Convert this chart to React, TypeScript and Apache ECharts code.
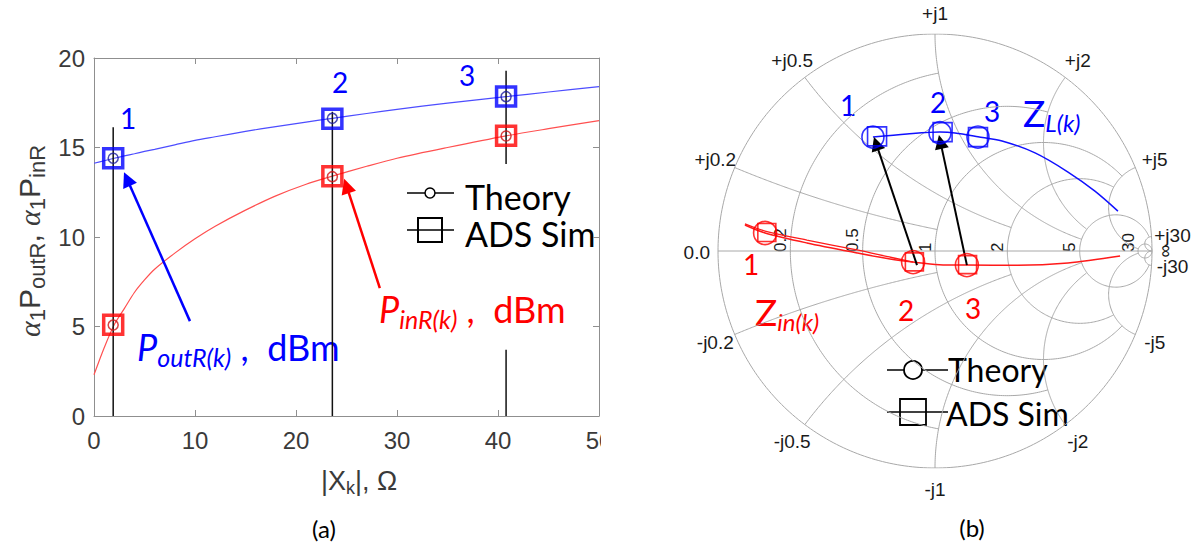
import React, { useEffect, useRef } from "react";
import * as echarts from "echarts";

// ---------- panel (a): reflected powers versus |X_k| ----------
const curveX = [0, 1, 2, 3, 4, 5, 6, 8, 10, 12, 15, 18, 21, 23.6, 27, 30, 35, 40.8, 45, 50];
const poutCurve = [14.12, 14.26, 14.4, 14.53, 14.65, 14.78, 14.9, 15.15, 15.4, 15.6, 15.9, 16.17, 16.42, 16.63, 16.9, 17.13, 17.48, 17.84, 18.1, 18.4];
const pinCurve = [2.3, 3.8, 5.1, 6.0, 6.9, 7.6, 8.2, 9.1, 9.9, 10.6, 11.5, 12.3, 12.95, 13.4, 13.95, 14.4, 15.0, 15.65, 16.05, 16.5];

const pointX = [1.9, 23.6, 40.8];
const poutTheory = [14.4, 16.63, 17.84];
const pinTheory = [5.08, 13.37, 15.64];
const poutSim = [14.4, 16.6, 17.85];
const pinSim = [5.1, 13.4, 15.65];

// vertical guides: [x, yFrom, yTo]
const guideSegments: [number, number, number][] = [
  [1.9, 0, 16.13],
  [23.6, 0, 17.0],
  [40.8, 14.08, 19.29],
  [40.8, 0, 3.7],
];

// annotation arrows: [tail, head]
const poutArrow: [number, number][] = [[9.5, 5.3], [3.27, 13.24]];
const pinArrow: [number, number][] = [[28.3, 7.15], [25.0, 12.85]];

const xTicks = { min: 0, max: 50, interval: 10 };
const yTicks = { min: 0, max: 20, interval: 5 };

// ---------- panel (b): Smith chart, reflection-coefficient plane ----------
const zLoadCurve: [number, number][] = [
  [-0.286, 0.525], [-0.129, 0.539], [0.023, 0.548], [0.092, 0.544], [0.198, 0.527],
  [0.309, 0.507], [0.461, 0.452], [0.613, 0.364], [0.737, 0.276], [0.843, 0.184],
];
const zLoadTheory: [number, number][] = [[-0.286, 0.525], [0.023, 0.545], [0.198, 0.525]];
const zLoadSim: [number, number][] = [[-0.267, 0.528], [0.035, 0.548], [0.198, 0.525]];

const zInCurve: [number, number][] = [
  [-0.876, 0.12], [-0.783, 0.083], [-0.59, 0.037], [-0.359, -0.009], [-0.207, -0.037],
  [-0.101, -0.051], [0.02, -0.063], [0.147, -0.065], [0.382, -0.066], [0.613, -0.055], [0.853, -0.023],
];
const zInSimPath: [number, number][] = [
  [-0.876, 0.125], [-0.783, 0.092], [-0.59, 0.05], [-0.36, 0.005], [-0.2, -0.03], [-0.101, -0.051],
];
const zInTheory: [number, number][] = [[-0.783, 0.083], [-0.101, -0.051], [0.147, -0.065]];
const zInSim: [number, number][] = [[-0.775, 0.085], [-0.095, -0.05], [0.15, -0.063]];

const mapArrows: [number, number][][] = [
  [[-0.083, -0.065], [-0.271, 0.495]],
  [[0.147, -0.065], [0.025, 0.503]],
];

// grid values and the limits up to which each grid curve is drawn
const gridValues = [0.2, 0.5, 1, 2, 5];
const gridLimits = [1, 2, 5, 5, 30];
const outerValue = 30;
const resistanceLabels = ["0.2", "0.5", "1", "2", "5", "30"];
const reactanceLabels = [0.2, 0.5, 1, 2, 5, 30];

const BLUE = "#0000ff";
const RED = "#ff0000";
const AXIS_GRAY = "#8f8f8f";
const LABEL_GRAY = "#3a3a3a";
const GRID_GRAY = "#a8a8a8";
const CALIBRI = "Lato, 'Open Sans', sans-serif";
const HELV = "'Liberation Sans', Arial, sans-serif";

function gammaOf(r: number, x: number): [number, number] {
  const d = (r + 1) * (r + 1) + x * x;
  return [(r * r + x * x - 1) / d, (2 * x) / d];
}

function resistanceArc(r: number, xmax: number): [number, number][] {
  const pts: [number, number][] = [];
  if (!isFinite(xmax)) {
    const c = r / (1 + r);
    const rad = 1 / (1 + r);
    for (let i = 0; i <= 360; i++) {
      const t = (i / 360) * Math.PI * 2;
      pts.push([c + rad * Math.cos(t), rad * Math.sin(t)]);
    }
    return pts;
  }
  const uMax = Math.asinh(xmax);
  const n = 240;
  for (let i = 0; i <= n; i++) {
    const x = Math.sinh(-uMax + (2 * uMax * i) / n);
    pts.push(gammaOf(r, x));
  }
  return pts;
}

function reactanceArc(x: number, rmax: number): [number, number][] {
  const pts: [number, number][] = [];
  const uMax = Math.asinh(isFinite(rmax) ? rmax : 1e5);
  const n = 240;
  for (let i = 0; i <= n; i++) {
    const r = Math.sinh((uMax * i) / n);
    pts.push(gammaOf(r, x));
  }
  return pts;
}

function gridLine(data: [number, number][]) {
  return {
    type: "line",
    data,
    showSymbol: false,
    symbol: "none",
    silent: true,
    z: 1,
    lineStyle: { color: GRID_GRAY, width: 1 },
  };
}

function arrowMarks(pairs: [number, number][][], color: string, width: number, size: number) {
  return {
    silent: true,
    symbol: ["none", "triangle"],
    symbolSize: size,
    label: { show: false },
    emphasis: { disabled: true },
    lineStyle: { color, width, type: "solid", opacity: 1 },
    itemStyle: { color },
    data: pairs.map((p) => [{ coord: p[0] }, { coord: p[1] }]),
  };
}

function buildPanelA(): any {
  const xy = (xs: number[], ys: number[]) => xs.map((x, i) => [x, ys[i]]);
  const axisCommon = {
    type: "value",
    axisLine: { show: true, onZero: false, lineStyle: { color: AXIS_GRAY, width: 1 } },
    axisTick: { show: true, inside: true, length: 6, lineStyle: { color: AXIS_GRAY, width: 1 } },
    splitLine: { show: false },
  };
  const rich = {
    p: { fontFamily: CALIBRI, fontStyle: "italic", fontSize: 36, lineHeight: 44 },
    s: { fontFamily: CALIBRI, fontStyle: "italic", fontSize: 25, lineHeight: 22, verticalAlign: "bottom" },
    d: { fontFamily: CALIBRI, fontSize: 36, lineHeight: 44 },
  };
  const withFill = (fill: string) => {
    const out: any = {};
    Object.keys(rich).forEach((k) => (out[k] = { ...(rich as any)[k], fill }));
    return out;
  };
  return {
    animation: false,
    grid: { left: 94, top: 58, right: 2, bottom: 132, outerBoundsMode: "none", containLabel: false },
    xAxis: [
      {
        ...axisCommon,
        ...xTicks,
        position: "bottom",
        axisLabel: { fontSize: 24, fontFamily: HELV, color: LABEL_GRAY, margin: 12 },
      },
      { ...axisCommon, ...xTicks, position: "top", axisLabel: { show: false } },
    ],
    yAxis: [
      {
        ...axisCommon,
        ...yTicks,
        position: "left",
        axisLabel: { fontSize: 24, fontFamily: HELV, color: LABEL_GRAY, margin: 9 },
      },
      { ...axisCommon, ...yTicks, position: "right", axisLabel: { show: false } },
    ],
    series: [
      {
        type: "line",
        name: "PoutR theory",
        data: xy(curveX, poutCurve),
        smooth: 0.3,
        showSymbol: false,
        lineStyle: { color: "#4d4dff", width: 1.2 },
        z: 2,
        markLine: arrowMarks([poutArrow], BLUE, 2.5, 15),
      },
      {
        type: "line",
        name: "PinR theory",
        data: xy(curveX, pinCurve),
        smooth: 0.3,
        showSymbol: false,
        lineStyle: { color: "#ff5050", width: 1.2 },
        z: 2,
        markLine: arrowMarks([pinArrow], RED, 2.5, 15),
      },
      ...guideSegments.map(([x, y0, y1]) => ({
        type: "line",
        data: [[x, y0], [x, y1]],
        showSymbol: false,
        symbol: "none",
        silent: true,
        lineStyle: { color: "#111111", width: 1.5 },
        z: 3,
      })),
      {
        type: "scatter",
        data: xy(pointX, poutSim),
        symbol: "rect",
        symbolSize: 19,
        itemStyle: { color: "rgba(0,0,0,0)", borderColor: BLUE, borderWidth: 3.5 },
        z: 4,
      },
      {
        type: "scatter",
        data: xy(pointX, pinSim),
        symbol: "rect",
        symbolSize: 19,
        itemStyle: { color: "rgba(0,0,0,0)", borderColor: RED, borderWidth: 3.5 },
        z: 4,
      },
      {
        type: "scatter",
        data: xy(pointX, poutTheory),
        symbol: "circle",
        symbolSize: 10,
        itemStyle: { color: "rgba(0,0,0,0)", borderColor: "#1a1aa0", borderWidth: 1.5 },
        z: 5,
      },
      {
        type: "scatter",
        data: xy(pointX, pinTheory),
        symbol: "circle",
        symbolSize: 10,
        itemStyle: { color: "rgba(0,0,0,0)", borderColor: "#d01515", borderWidth: 1.5 },
        z: 5,
      },
    ],
    graphic: [
      // y-axis title
      {
        type: "text",
        x: 29,
        y: 241,
        rotation: Math.PI / 2,
        silent: true,
        style: {
          text: "{g|α}{s|1}{n|P}{s|outR}{n|, }{g|α}{s|1}{n|P}{s|inR}",
          align: "center",
          verticalAlign: "middle",
          rich: {
            n: { fontFamily: HELV, fontSize: 30, lineHeight: 38, fill: LABEL_GRAY },
            g: { fontFamily: "'Liberation Serif', serif", fontStyle: "italic", fontSize: 30, lineHeight: 38, fill: LABEL_GRAY },
            s: { fontFamily: HELV, fontSize: 22, lineHeight: 22, verticalAlign: "bottom", fill: LABEL_GRAY },
          },
        },
      },
      // x-axis title
      {
        type: "text",
        x: 321,
        y: 481,
        silent: true,
        style: {
          text: "{n||X}{s|k}{n||, Ω}",
          align: "left",
          verticalAlign: "middle",
          rich: {
            n: { fontFamily: HELV, fontSize: 27, lineHeight: 32, fill: LABEL_GRAY },
            s: { fontFamily: HELV, fontSize: 18, lineHeight: 18, verticalAlign: "bottom", fill: LABEL_GRAY },
          },
        },
      },
      // point numbers
      ...[["1", 128, 118], ["2", 340, 82], ["3", 467, 75]].map(([t, x, y]) => ({
        type: "text",
        x,
        y,
        silent: true,
        style: { text: t, fontFamily: CALIBRI, fontSize: 28, fill: BLUE, align: "center", verticalAlign: "middle" },
      })),
      // curve captions
      {
        type: "text",
        x: 137,
        y: 347,
        silent: true,
        style: { text: "{p|P}{s|outR(k)}{d| ,  dBm}", align: "left", verticalAlign: "middle", rich: withFill(BLUE) },
      },
      {
        type: "text",
        x: 379,
        y: 309,
        silent: true,
        style: { text: "{p|P}{s|inR(k)}{d| ,  dBm}", align: "left", verticalAlign: "middle", rich: withFill(RED) },
      },
      // legend
      { type: "line", silent: true, shape: { x1: 407, y1: 193, x2: 454, y2: 193 }, style: { stroke: "#000", lineWidth: 1.5 } },
      { type: "circle", silent: true, shape: { cx: 430, cy: 193, r: 5 }, style: { stroke: "#000", lineWidth: 1.5, fill: "#fff" } },
      {
        type: "text",
        x: 465,
        y: 196,
        silent: true,
        style: { text: "Theory", fontFamily: CALIBRI, fontSize: 34, fill: "#000", align: "left", verticalAlign: "middle" },
      },
      { type: "line", silent: true, shape: { x1: 407, y1: 230, x2: 454, y2: 230 }, style: { stroke: "#000", lineWidth: 1.5 } },
      { type: "rect", silent: true, shape: { x: 418, y: 218, width: 24, height: 24 }, style: { stroke: "#000", lineWidth: 2, fill: "none" } },
      {
        type: "text",
        x: 465,
        y: 233,
        silent: true,
        style: { text: "ADS Sim", fontFamily: CALIBRI, fontSize: 34, fill: "#000", align: "left", verticalAlign: "middle" },
      },
      {
        type: "text",
        x: 324,
        y: 528,
        silent: true,
        style: { text: "(a)", fontFamily: CALIBRI, fontSize: 24, fill: "#000", align: "center", verticalAlign: "middle" },
      },
    ],
  };
}

function buildPanelB(): any {
  const cx = 334;
  const cy = 251;
  const R = 217;

  const gridSeries: any[] = [];
  gridSeries.push(gridLine(resistanceArc(0, Infinity)));
  gridSeries.push(gridLine([[-1, 0], [1, 0]]));
  gridValues.forEach((v, i) => {
    gridSeries.push(gridLine(resistanceArc(v, gridLimits[i])));
    gridSeries.push(gridLine(reactanceArc(v, gridLimits[i])));
    gridSeries.push(gridLine(reactanceArc(-v, gridLimits[i])));
  });
  gridSeries.push(gridLine(resistanceArc(outerValue, Infinity)));
  gridSeries.push(gridLine(reactanceArc(outerValue, Infinity)));
  gridSeries.push(gridLine(reactanceArc(-outerValue, Infinity)));

  const labelStyle = { fontFamily: HELV, fontSize: 19, fill: "#1a1a1a", align: "center", verticalAlign: "middle" };
  const labels: any[] = [];
  reactanceLabels.forEach((v) => {
    [1, -1].forEach((sgn) => {
      const x = v * sgn;
      const gr = (x * x - 1) / (x * x + 1);
      const gi = (2 * x) / (x * x + 1);
      labels.push({
        type: "text",
        x: cx + (R + 21) * gr,
        y: cy - (R + 21) * gi,
        silent: true,
        style: { ...labelStyle, text: (sgn > 0 ? "+j" : "-j") + v },
      });
    });
  });
  const resValues = [...gridValues, outerValue];
  resValues.forEach((r, i) => {
    const cross = cx + (R * (r - 1)) / (r + 1);
    labels.push({
      type: "text",
      x: cross - 10,
      y: cy + 1,
      rotation: Math.PI / 2,
      silent: true,
      style: { ...labelStyle, fontSize: 17, text: resistanceLabels[i], align: "left" },
    });
  });
  labels.push({ type: "text", x: cx - R - 8, y: cy + 1, silent: true, style: { ...labelStyle, text: "0.0", align: "right" } });
  labels.push({ type: "text", x: cx + R + 13, y: cy, rotation: Math.PI / 2, silent: true, style: { ...labelStyle, fontSize: 18, text: "∞" } });

  const zRich = (fill: string) => ({
    z: { fontFamily: CALIBRI, fontSize: 37, lineHeight: 44, fill },
    s: { fontFamily: CALIBRI, fontStyle: "italic", fontSize: 24, lineHeight: 20, verticalAlign: "bottom", fill },
  });

  const markerSeries = (data: [number, number][], symbol: string, size: number, color: string) => ({
    type: "scatter",
    data,
    symbol,
    symbolSize: size,
    itemStyle: { color: "rgba(0,0,0,0)", borderColor: color, borderWidth: 1.6 },
    z: 5,
  });

  return {
    animation: false,
    grid: { left: cx - R, top: cy - R, width: 2 * R, height: 2 * R, outerBoundsMode: "none", containLabel: false },
    xAxis: { type: "value", min: -1, max: 1, show: false },
    yAxis: { type: "value", min: -1, max: 1, show: false },
    series: [
      ...gridSeries,
      {
        type: "line",
        data: zLoadCurve,
        smooth: 0.3,
        showSymbol: false,
        lineStyle: { color: "#1010ff", width: 1.5 },
        z: 3,
      },
      {
        type: "line",
        data: zInSimPath,
        smooth: 0.3,
        showSymbol: false,
        lineStyle: { color: "#ff1a1a", width: 1.3 },
        z: 3,
      },
      {
        type: "line",
        data: zInCurve,
        smooth: 0.3,
        showSymbol: false,
        lineStyle: { color: "#ff1a1a", width: 1.5 },
        z: 3,
        markLine: arrowMarks(mapArrows, "#000", 2, 14),
      },
      markerSeries(zLoadTheory, "circle", 22, BLUE),
      markerSeries(zLoadSim, "rect", 19, BLUE),
      markerSeries(zInTheory, "circle", 23, RED),
      markerSeries(zInSim, "rect", 18, RED),
    ],
    graphic: [
      ...labels,
      ...[["1", 247, 105], ["2", 337, 102], ["3", 391, 111]].map(([t, x, y]) => ({
        type: "text",
        x,
        y,
        silent: true,
        style: { text: t, fontFamily: CALIBRI, fontSize: 28, fill: BLUE, align: "center", verticalAlign: "middle" },
      })),
      ...[["1", 150, 264], ["2", 305, 310], ["3", 372, 308]].map(([t, x, y]) => ({
        type: "text",
        x,
        y,
        silent: true,
        style: { text: t, fontFamily: CALIBRI, fontSize: 28, fill: RED, align: "center", verticalAlign: "middle" },
      })),
      {
        type: "text",
        x: 422,
        y: 112,
        silent: true,
        style: { text: "{z|Z}{s|L(k)}", align: "left", verticalAlign: "middle", rich: zRich(BLUE) },
      },
      {
        type: "text",
        x: 154,
        y: 311,
        silent: true,
        style: { text: "{z|Z}{s|in(k)}", align: "left", verticalAlign: "middle", rich: zRich(RED) },
      },
      // legend
      { type: "line", silent: true, shape: { x1: 286, y1: 370, x2: 347, y2: 370 }, style: { stroke: "#000", lineWidth: 1.5 } },
      { type: "circle", silent: true, shape: { cx: 312, cy: 370, r: 9 }, style: { stroke: "#000", lineWidth: 1.8, fill: "#fff" } },
      {
        type: "text",
        x: 347,
        y: 369,
        silent: true,
        style: { text: "Theory", fontFamily: CALIBRI, fontSize: 32, fill: "#000", align: "left", verticalAlign: "middle" },
      },
      { type: "line", silent: true, shape: { x1: 286, y1: 412, x2: 347, y2: 412 }, style: { stroke: "#000", lineWidth: 1.5 } },
      { type: "rect", silent: true, shape: { x: 299, y: 399, width: 26, height: 26 }, style: { stroke: "#000", lineWidth: 1.8, fill: "none" } },
      {
        type: "text",
        x: 345,
        y: 413,
        silent: true,
        style: { text: "ADS Sim", fontFamily: CALIBRI, fontSize: 32, fill: "#000", align: "left", verticalAlign: "middle" },
      },
      {
        type: "text",
        x: 371,
        y: 527,
        silent: true,
        style: { text: "(b)", fontFamily: CALIBRI, fontSize: 24, fill: "#000", align: "center", verticalAlign: "middle" },
      },
    ],
  };
}

export default function App() {
  const leftRef = useRef<HTMLDivElement>(null);
  const rightRef = useRef<HTMLDivElement>(null);

  useEffect(() => {
    const a = echarts.init(leftRef.current!, null, { renderer: "svg" });
    a.setOption(buildPanelA());
    const b = echarts.init(rightRef.current!, null, { renderer: "svg" });
    b.setOption(buildPanelB());
    return () => {
      a.dispose();
      b.dispose();
    };
  }, []);

  return (
    <div style={{ position: "absolute", left: 0, top: 0, width: 1201, height: 548, background: "#fff", overflow: "hidden" }}>
      <div ref={leftRef} style={{ position: "absolute", left: 0, top: 0, width: 601, height: 548 }} />
      <div ref={rightRef} style={{ position: "absolute", left: 601, top: 0, width: 600, height: 548 }} />
    </div>
  );
}
